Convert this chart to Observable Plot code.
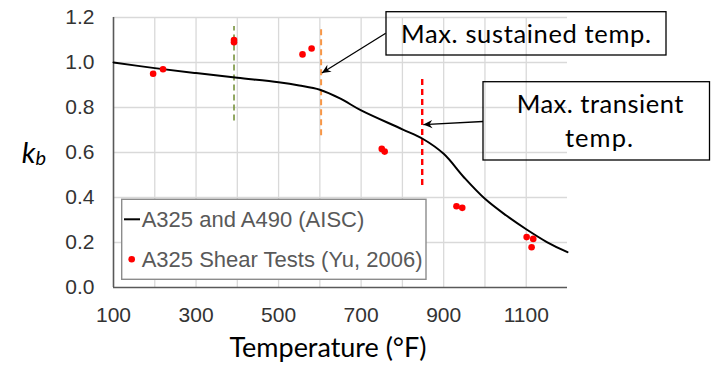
<!DOCTYPE html>
<html>
<head>
<meta charset="utf-8">
<script src="https://cdn.jsdelivr.net/npm/d3@7"></script>
<script src="https://cdn.jsdelivr.net/npm/@observablehq/plot@0.6"></script>
<style>
  html, body { margin: 0; padding: 0; background: #fff; }
  #chart { width: 716px; height: 365px; overflow: hidden; }
</style>
</head>
<body>
<div id="chart"></div>
<script>
// AISC retention factor curve (A325 and A490)
const aiscTemp = [100, 200, 300, 400, 500, 550, 600, 650, 700, 800, 850, 900, 950, 1000, 1050, 1100, 1150, 1200];
const aiscKb   = [1.0, 0.975, 0.953, 0.932, 0.912, 0.898, 0.879, 0.839, 0.787, 0.703, 0.66, 0.594, 0.488, 0.394, 0.322, 0.259, 0.202, 0.157];

// A325 shear tests (Yu, 2006)
const testTemp = [196, 220, 392, 392, 558, 580, 750, 757, 931, 945, 1101, 1117, 1113];
const testKb   = [0.95, 0.97, 1.10, 1.09, 1.036, 1.062, 0.616, 0.604, 0.361, 0.354, 0.224, 0.216, 0.179];

// Vertical dashed temperature markers
const markerTemp = [392, 603, 848];
const markerLow  = [0.74, 0.675, 0.453];
const markerHigh = [1.16, 1.16, 0.932];

// Tick labels
const xTicks = [100, 300, 500, 700, 900, 1100];
const yTicks = [0, 0.2, 0.4, 0.6, 0.8, 1.0, 1.2];
const xGrid = [200, 300, 400, 500, 600, 700, 800, 900, 1000, 1100];
const yGrid = [0.2, 0.4, 0.6, 0.8, 1.0, 1.2];

// Legend / annotation texts and targets
const legendLabels = ["A325 and A490 (AISC)", "A325 Shear Tests (Yu, 2006)"];
const annoSustained = {text: "Max. sustained temp.", temp: 606, kb: 0.951};
const annoTransient = {lines: ["Max. transient", "temp."], temp: 852, kb: 0.722};
const xTitle = "Temperature (°F)";

const curve = aiscTemp.map((t, i) => ({t, k: aiscKb[i]}));
const tests = testTemp.map((t, i) => ({t, k: testKb[i]}));
const markers = markerTemp.map((t, i) => ({t, lo: markerLow[i], hi: markerHigh[i], i}));
const markerColors = ["#77933c", "#f79646", "#ff0000"];
const markerWidths = [1.6, 2, 2.4];

const arialLike = "'Liberation Sans', Arial, sans-serif";

const plot = Plot.plot({
  width: 716,
  height: 365,
  marginLeft: 113,
  marginRight: 149,
  marginTop: 17,
  marginBottom: 78,
  style: {background: "white", fontFamily: arialLike},
  x: {domain: [100, 1200], axis: null},
  y: {domain: [0, 1.2], axis: null},
  marks: [
    Plot.ruleX(xGrid, {stroke: "#d9d9d9", strokeWidth: 1.3}),
    Plot.ruleY(yGrid, {stroke: "#d9d9d9", strokeWidth: 1.3}),
    Plot.ruleX([100], {stroke: "#595959", strokeWidth: 1.6}),
    Plot.ruleY([0], {stroke: "#595959", strokeWidth: 1.6}),
    Plot.axisX(xTicks, {tickSize: 0, tickPadding: 20, fontSize: 21, fill: "#333", label: null, tickFormat: d3.format("d"), fontFamily: arialLike}),
    Plot.axisY(yTicks, {tickSize: 0, tickPadding: 19, fontSize: 21, fill: "#333", label: null, tickFormat: d3.format(".1f"), fontFamily: arialLike}),
    ...markers.map(m => Plot.ruleX([m], {x: "t", y1: "lo", y2: "hi", stroke: markerColors[m.i], strokeWidth: markerWidths[m.i], strokeDasharray: "6,4"})),
    Plot.line(curve, {x: "t", y: "k", stroke: "black", strokeWidth: 2, curve: "catmull-rom"}),
    Plot.dot(tests, {x: "t", y: "k", r: 3.3, fill: "#ff0000", stroke: "none"})
  ]
});

document.getElementById("chart").appendChild(plot);

const svg = d3.select(plot);
const sx = plot.scale("x"), sy = plot.scale("y");

// arrow marker
const defs = svg.append("defs");
defs.append("marker")
  .attr("id", "arrowhead")
  .attr("viewBox", "0 0 10 10")
  .attr("refX", 10).attr("refY", 5)
  .attr("markerWidth", 10).attr("markerHeight", 9)
  .attr("markerUnits", "userSpaceOnUse")
  .attr("orient", "auto")
  .append("path")
  .attr("d", "M0,0.5 L10,5 L0,9.5 L3.2,5 Z")
  .attr("fill", "black");

const calibriLike = "Lato, 'Open Sans', sans-serif";

// Legend
const lg = svg.append("g").attr("text-anchor", "start");
lg.append("rect").attr("x", 121.7).attr("y", 199.3).attr("width", 304.3).attr("height", 80)
  .attr("fill", "white").attr("stroke", "#8c8c8c").attr("stroke-width", 1.4);
lg.append("line").attr("x1", 124).attr("x2", 140).attr("y1", 219.3).attr("y2", 219.3)
  .attr("stroke", "black").attr("stroke-width", 2);
lg.append("circle").attr("cx", 131.7).attr("cy", 259.3).attr("r", 3.3).attr("fill", "#ff0000");
legendLabels.forEach((s, i) => {
  lg.append("text").attr("x", 141.7).attr("y", [219.3, 259.3][i]).attr("dy", "0.36em")
    .attr("text-anchor", "start")
    .attr("font-family", arialLike).attr("font-size", 22)
    .attr("fill", "#595959").text(s);
});

// Annotation 1
const a1 = svg.append("g");
a1.append("rect").attr("x", 386).attr("y", 11.7).attr("width", 280).attr("height", 43.3)
  .attr("fill", "none").attr("stroke", "black").attr("stroke-width", 1.3);
a1.append("text").attr("x", 526).attr("y", 43.3).attr("text-anchor", "middle")
  .attr("font-family", calibriLike).attr("font-size", 25.5).attr("fill", "black")
  .attr("textLength", 250).text(annoSustained.text);
a1.append("line").attr("x1", 385.7).attr("y1", 33.3)
  .attr("x2", sx.apply(annoSustained.temp)).attr("y2", sy.apply(annoSustained.kb))
  .attr("stroke", "black").attr("stroke-width", 1.3).attr("marker-end", "url(#arrowhead)");

// Annotation 2
const a2 = svg.append("g");
a2.append("rect").attr("x", 483).attr("y", 81.7).attr("width", 226.5).attr("height", 78.3)
  .attr("fill", "none").attr("stroke", "black").attr("stroke-width", 1.3);
a2.append("text").attr("x", 600).attr("y", 113.3).attr("text-anchor", "middle")
  .attr("font-family", calibriLike).attr("font-size", 25.5).attr("fill", "black")
  .attr("textLength", 166.7).text(annoTransient.lines[0]);
a2.append("text").attr("x", 599).attr("y", 146.7).attr("text-anchor", "middle")
  .attr("font-family", calibriLike).attr("font-size", 25.5).attr("fill", "black")
  .attr("textLength", 68).text(annoTransient.lines[1]);
a2.append("line").attr("x1", 483).attr("y1", 121.5)
  .attr("x2", sx.apply(annoTransient.temp)).attr("y2", sy.apply(annoTransient.kb))
  .attr("stroke", "black").attr("stroke-width", 1.3).attr("marker-end", "url(#arrowhead)");

// X axis title
svg.append("text").attr("x", 328).attr("y", 357).attr("text-anchor", "middle")
  .attr("font-family", calibriLike).attr("font-size", 27).attr("fill", "black")
  .attr("textLength", 197).text(xTitle);

// Y axis label k_b
const yl = svg.append("text").attr("x", 21.7).attr("y", sy.apply(0.6) + 11)
  .attr("text-anchor", "start")
  .attr("font-family", calibriLike).attr("font-style", "italic").attr("fill", "black");
yl.append("tspan").attr("font-size", 29).text("k");
yl.append("tspan").attr("font-size", 20).attr("dy", 2).text("b");
</script>
</body>
</html>
